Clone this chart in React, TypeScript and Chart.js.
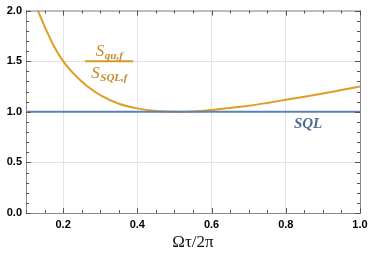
import React, { useEffect, useRef } from "react";
import { Chart, registerables } from "chart.js";

Chart.register(...registerables);

// Data
const ratioX = [0.132, 0.14, 0.15, 0.16, 0.175, 0.2, 0.225, 0.25, 0.275, 0.3, 0.35, 0.4, 0.45, 0.5, 0.55, 0.6, 0.65, 0.7, 0.75, 0.8, 0.85, 0.9, 0.95, 1.0];
const ratioY = [2.0, 1.93, 1.845, 1.765, 1.65, 1.5, 1.39, 1.3, 1.225, 1.165, 1.08, 1.034, 1.008, 1.0, 1.004, 1.018, 1.038, 1.06, 1.088, 1.118, 1.148, 1.18, 1.215, 1.25];
const sqlX = [0.1, 1.0];
const sqlY = [1.0, 1.0];

const xMin = 0.1;
const xMax = 1.0;
const yMin = 0;
const yMax = 2;
const xStep = 0.05;
const yStep = 0.1;
const xAxisTitle = "Ωτ/2π";

const isMajor = (v: number, unit: number) => Math.abs(v / unit - Math.round(v / unit)) < 1e-6;

const framePlugin = {
  id: "frame",
  afterDraw(chart: any) {
    const { ctx, chartArea: a, scales } = chart;
    const xs = scales.x;
    const ys = scales.y;
    ctx.save();
    ctx.strokeStyle = "#8a8a8a";
    ctx.lineWidth = 1;
    ctx.strokeRect(a.left + 0.5, a.top + 0.5, a.right - a.left, a.bottom - a.top);
    ctx.strokeStyle = "#555";
    ctx.beginPath();
    xs.ticks.forEach((t: any) => {
      const p = Math.round(xs.getPixelForValue(t.value)) + 0.5;
      const len = isMajor(t.value, 0.2) ? 5 : 3;
      ctx.moveTo(p, a.bottom);
      ctx.lineTo(p, a.bottom - len);
      ctx.moveTo(p, a.top);
      ctx.lineTo(p, a.top + len);
    });
    ys.ticks.forEach((t: any) => {
      const p = Math.round(ys.getPixelForValue(t.value)) + 0.5;
      const len = isMajor(t.value, 0.5) ? 5 : 3;
      ctx.moveTo(a.left, p);
      ctx.lineTo(a.left + len, p);
      ctx.moveTo(a.right, p);
      ctx.lineTo(a.right - len, p);
    });
    ctx.stroke();

    // Fraction label
    const fx = xs.getPixelForValue(0.324);
    const fy = ys.getPixelForValue(1.5);
    ctx.fillStyle = "#c48a2c";
    ctx.strokeStyle = "#d9972a";
    ctx.lineWidth = 2;
    ctx.beginPath();
    ctx.moveTo(fx - 24, fy);
    ctx.lineTo(fx + 24, fy);
    ctx.stroke();
    const drawSub = (main: string, sub: string, cx: number, baseline: number) => {
      const mainFont = "italic 17px 'Liberation Serif', serif";
      const subFont = "italic bold 11px 'Liberation Serif', serif";
      ctx.font = mainFont;
      const w1 = ctx.measureText(main).width;
      ctx.font = subFont;
      const w2 = ctx.measureText(sub).width;
      const start = cx - (w1 + w2) / 2;
      ctx.font = mainFont;
      ctx.textAlign = "left";
      ctx.textBaseline = "alphabetic";
      ctx.fillText(main, start, baseline);
      ctx.font = subFont;
      ctx.fillText(sub, start + w1 + 0.5, baseline + 3);
    };
    drawSub("S", "qu,f", fx, fy - 5);
    drawSub("S", "SQL,f", fx, fy + 17);

    // SQL label
    ctx.fillStyle = "#4f6a96";
    ctx.font = "italic bold 15px 'Liberation Serif', serif";
    ctx.textAlign = "center";
    ctx.textBaseline = "middle";
    ctx.fillText("SQL", xs.getPixelForValue(0.86), ys.getPixelForValue(0.88));
    ctx.restore();
  },
};

export default function App() {
  const ref = useRef<HTMLCanvasElement | null>(null);
  useEffect(() => {
    if (!ref.current) return;
    const tickFont = { family: "'Liberation Sans', Arial, sans-serif", weight: "bold", size: 11 };
    const chart = new Chart(ref.current, {
      type: "line",
      data: {
        datasets: [
          {
            label: "SQL",
            data: sqlX.map((x, i) => ({ x, y: sqlY[i] })),
            borderColor: "#5e81b5",
            borderWidth: 2,
            pointRadius: 0,
          },
          {
            label: "ratio",
            data: ratioX.map((x, i) => ({ x, y: ratioY[i] })),
            borderColor: "#e19c24",
            borderWidth: 2,
            pointRadius: 0,
            cubicInterpolationMode: "monotone",
          },
        ],
      },
      options: {
        animation: false,
        responsive: false,
        maintainAspectRatio: false,
        layout: { padding: { top: 6, right: 14, left: 0, bottom: 0 } },
        plugins: { legend: { display: false }, tooltip: { enabled: false } },
        scales: {
          x: {
            type: "linear",
            min: xMin,
            max: xMax,
            afterFit: (s: any) => {
              s.height = 40;
            },
            ticks: {
              stepSize: xStep,
              autoSkip: false,
              maxRotation: 0,
              padding: 5,
              color: "#000",
              font: tickFont,
              callback: (v: any) => (isMajor(Number(v), 0.2) ? Number(v).toFixed(1) : ""),
            },
            grid: {
              drawTicks: false,
              color: (c: any) => (c.tick && isMajor(c.tick.value, 0.2) ? "#e4e4e4" : "rgba(0,0,0,0)"),
            },
            border: { display: false },
            title: {
              display: true,
              text: xAxisTitle,
              font: { family: "'Liberation Serif', serif", size: 17 },
              color: "#111",
              padding: { top: 0, bottom: 0 },
            },
          },
          y: {
            type: "linear",
            min: yMin,
            max: yMax,
            afterFit: (s: any) => {
              s.width = 26;
            },
            ticks: {
              stepSize: yStep,
              autoSkip: false,
              padding: 4,
              color: "#000",
              font: tickFont,
              callback: (v: any) => (isMajor(Number(v), 0.5) ? Number(v).toFixed(1) : ""),
            },
            grid: {
              drawTicks: false,
              color: (c: any) => (c.tick && isMajor(c.tick.value, 0.5) ? "#e4e4e4" : "rgba(0,0,0,0)"),
            },
            border: { display: false },
          },
        },
      },
      plugins: [framePlugin],
    } as any);
    return () => chart.destroy();
  }, []);
  return (
    <div style={{ position: "fixed", left: 0, top: 0, width: 374, height: 253, background: "#fff" }}>
      <canvas ref={ref} width={374} height={253} style={{ display: "block" }} />
    </div>
  );
}
